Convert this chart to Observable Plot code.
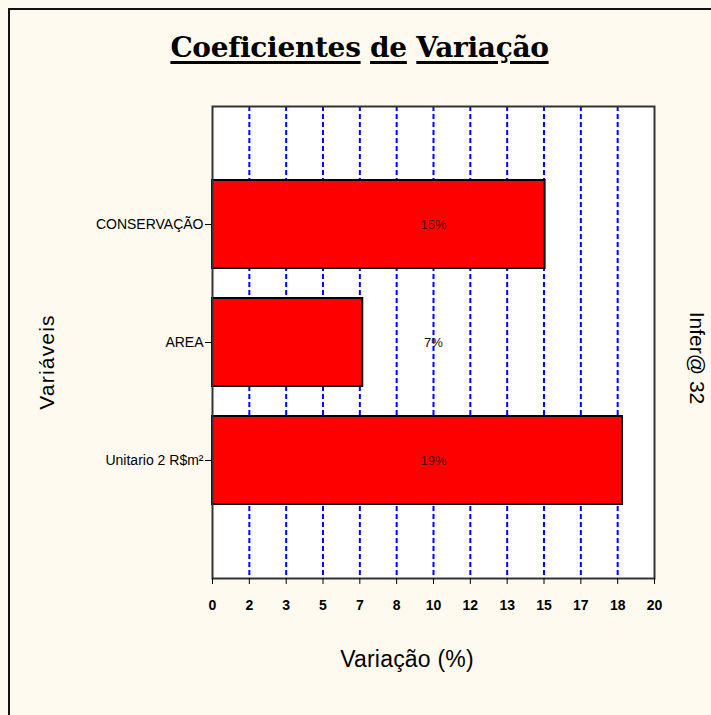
<!DOCTYPE html>
<html><head><meta charset="utf-8">
<script src="https://cdn.jsdelivr.net/npm/d3@7"></script>
<script src="https://cdn.jsdelivr.net/npm/@observablehq/plot@0.6"></script>
<style>
body{margin:0;background:#fffaf0;}
#wrap{position:relative;width:711px;height:715px;overflow:hidden;background:#fffaf0;}
#border{position:absolute;left:8px;top:8px;width:760px;height:760px;border:2px solid #111;box-sizing:border-box;}
#chart{position:absolute;left:0;top:0;}
#title{position:absolute;left:4px;top:33px;width:711px;text-align:center;font:bold 28px "DejaVu Serif","Liberation Serif",serif;line-height:30px;color:#000;white-space:nowrap;letter-spacing:-0.3px;}
#title .u{text-decoration:underline;text-decoration-thickness:3px;text-underline-offset:4px;}
#xlab{position:absolute;left:207px;top:648px;width:400px;text-align:center;font:23px "Liberation Sans",Arial,sans-serif;line-height:22px;color:#000;letter-spacing:0.2px;}
#ylab{position:absolute;left:-53px;top:350px;width:200px;height:24px;line-height:24px;text-align:center;font:21px "Liberation Sans",Arial,sans-serif;letter-spacing:1.2px;transform:rotate(-90deg);color:#000;}
#right{position:absolute;left:597px;top:346px;width:200px;height:24px;line-height:24px;text-align:center;font:21px "Liberation Sans",Arial,sans-serif;transform:rotate(90deg);color:#000;}
</style></head><body>
<div id="wrap">
<div id="border"></div>
<div id="chart"></div>
<div id="title"><span class="u">Coeficientes</span> <span class="u">de</span> <span class="u">Variação</span></div>
<div id="xlab">Variação (%)</div>
<div id="ylab">Variáveis</div>
<div id="right">Infer@ 32</div>
</div>
<script>
const categories = ["CONSERVAÇÃO", "AREA", "Unitario 2 R$m²"];
const values = [15.05, 6.8, 18.55];
const valueLabels = ["15%", "7%", "19%"];
const tickLabels = ["0","2","3","5","7","8","10","12","13","15","17","18","20"];
const xMax = 20;

const tickValues = tickLabels.map((_, i) => i * xMax / (tickLabels.length - 1));
const data = categories.map((c, i) => ({cat: c, value: values[i], label: valueLabels[i]}));

const chart = Plot.plot({
  width: 711, height: 715,
  marginLeft: 212, marginRight: 57, marginTop: 106, marginBottom: 137,
  style: {background: "transparent", fontFamily: "'Liberation Sans', Arial, sans-serif", color: "#000"},
  x: {domain: [0, xMax]},
  y: {domain: categories, paddingInner: 0.254, paddingOuter: 0.627},
  marks: [
    Plot.frame({fill: "white"}),
    Plot.ruleX(tickValues.slice(1, -1), {stroke: "#0000ff", strokeWidth: 2, strokeDasharray: "5,3"}),
    Plot.barX(data, {x: "value", y: "cat", fill: "#ff0000", stroke: "#000", strokeWidth: 2}),
    Plot.text(data, {x: () => xMax / 2, y: "cat", text: "label", fontSize: 13, fill: d => d.value > xMax / 2 ? "#4a0d00" : "#111"}),
    Plot.frame({stroke: "#333", strokeWidth: 2}),
    Plot.axisX({ticks: tickValues, tickFormat: d => tickLabels[tickValues.findIndex(t => Math.abs(t - d) < 1e-9)], tickSize: 6, tickPadding: 16, fontSize: 14, fontWeight: "bold", label: null}),
    Plot.axisY({tickSize: 7, tickPadding: 2, fontSize: 14, label: null})
  ]
});
document.getElementById("chart").appendChild(chart);
</script>
</body></html>
